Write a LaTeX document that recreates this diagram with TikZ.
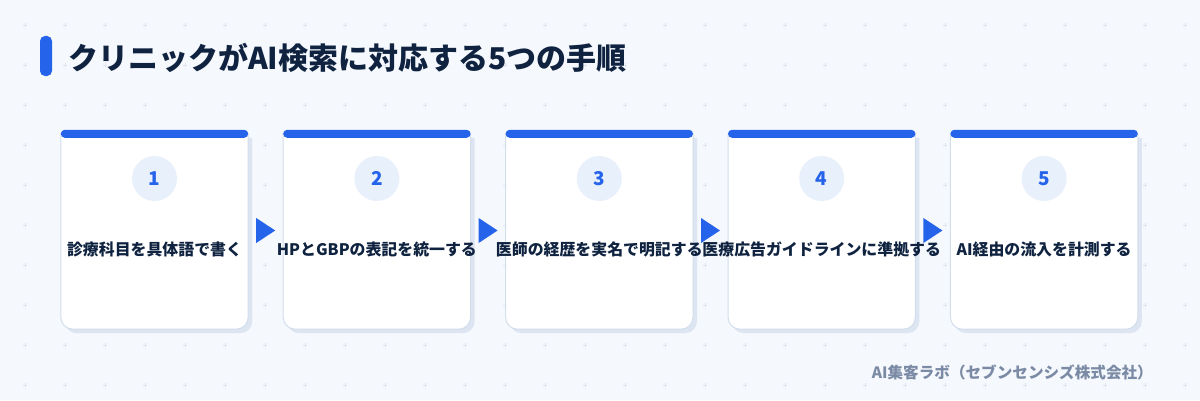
\documentclass[tikz,border=0pt]{standalone}
\usepackage{fontspec}
\setmainfont{Noto Sans CJK JP}
\usetikzlibrary{positioning,calc}

\definecolor{pagebg}{HTML}{F5F8FC}
\definecolor{gridmark}{HTML}{DEE5F0}
\definecolor{accent}{HTML}{2563EB}
\definecolor{ink}{HTML}{0F2340}
\definecolor{cardedge}{HTML}{D3DEEC}
\definecolor{cardshadow}{HTML}{DCE5F1}
\definecolor{numbg}{HTML}{E8F0FC}
\definecolor{credit}{HTML}{7B8BA5}

\tikzset{
	cardframe/.style={minimum width=187pt,minimum height=195pt,inner sep=0pt},
	numdisc/.style={circle,fill=numbg,minimum size=45pt,inner sep=0pt,text=accent,font=\bfseries\fontsize{19}{19}\selectfont},
	steptext/.style={text=ink,inner sep=0pt,font=\bfseries\fontsize{15.9}{16}\selectfont},
}

\begin{document}
\begin{tikzpicture}[x=1pt,y=1pt]
	\fill[pagebg] (0,0) rectangle (1200,400);
	\useasboundingbox (0,0) rectangle (1200,400);
	% background marks
	\foreach \gx in {25,65,...,1185}
		\foreach \gy in {15,55,...,375}
			\draw[gridmark,line width=0.6pt] (\gx-2,\gy) -- (\gx+2,\gy) (\gx,\gy-2) -- (\gx,\gy+2);
	
	\fill[accent,rounded corners=5pt] (40,324) rectangle (52,364);
	\node[anchor=west,inner sep=0pt,text=ink,font=\bfseries\fontsize{30}{30}\selectfont] at (68,342) (title) {クリニックがAI検索に対応する5つの手順};
	
	\node[cardframe] at (154.5,168.5) (card1) {};
	\node[cardframe,right=35pt of card1] (card2) {};
	\node[cardframe,right=35pt of card2] (card3) {};
	\node[cardframe,right=35pt of card3] (card4) {};
	\node[cardframe,right=35pt of card4] (card5) {};
	
	\foreach \i in {1,...,5} {
		\fill[cardshadow] ([xshift=4pt,yshift=-4pt]card\i.north west) -- ([xshift=4pt,yshift=8pt]card\i.south west) arc[start angle=180,end angle=270,radius=12pt] -- ([xshift=-8pt,yshift=-4pt]card\i.south east) arc[start angle=270,end angle=360,radius=12pt] -- ([xshift=4pt,yshift=-4pt]card\i.north east) -- cycle;
		\draw[cardedge,fill=white,line width=1pt] (card\i.north west) -- ([yshift=12pt]card\i.south west) arc[start angle=180,end angle=270,radius=12pt] -- ([xshift=-12pt]card\i.south east) arc[start angle=270,end angle=360,radius=12pt] -- (card\i.north east) -- cycle;
		\fill[accent,rounded corners=4pt] ([yshift=4pt]card\i.north west) rectangle ([yshift=-4pt]card\i.north east);
	}
	
	\node[numdisc,below=22pt of card1.north] (num1) {1};
	\node[numdisc,below=22pt of card2.north] (num2) {2};
	\node[numdisc,below=22pt of card3.north] (num3) {3};
	\node[numdisc,below=22pt of card4.north] (num4) {4};
	\node[numdisc,below=22pt of card5.north] (num5) {5};
	
	% arrows between cards
	\foreach \i/\j in {1/2,2/3,3/4,4/5}
		\fill[accent] ([xshift=8pt,yshift=13.5pt]card\i.east) -- ([xshift=27pt,yshift=1pt]card\i.east) -- ([xshift=8pt,yshift=-11.5pt]card\i.east) -- cycle;
	
	\node[steptext] at ([yshift=-17.5pt]card1.center) (lab1) {診療科目を具体語で書く};
	\node[steptext] at ([yshift=-17.5pt]card2.center) (lab2) {HPとGBPの表記を統一する};
	\node[steptext] at ([yshift=-17.5pt]card3.center) (lab3) {医師の経歴を実名で明記する};
	\node[steptext] at ([yshift=-17.5pt]card4.center) (lab4) {医療広告ガイドラインに準拠する};
	\node[steptext] at ([yshift=-17.5pt]card5.center) (lab5) {AI経由の流入を計測する};
	
	\node[anchor=east,inner sep=0pt,text=credit,font=\bfseries\fontsize{15.6}{16}\selectfont] at (1153,28) (credit) {AI集客ラボ（セブンセンシズ株式会社）};
\end{tikzpicture}
\end{document}
